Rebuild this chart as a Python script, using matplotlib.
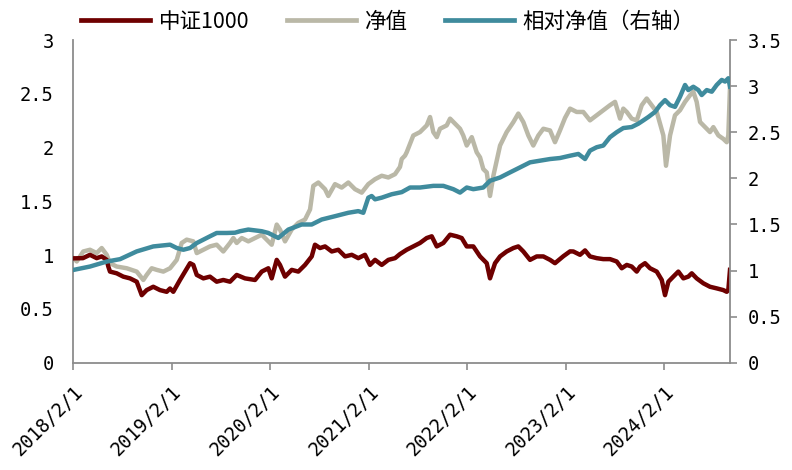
import numpy as np
import pandas as pd
import matplotlib
matplotlib.use("Agg")
import matplotlib.pyplot as plt
from matplotlib.font_manager import FontProperties
from matplotlib.lines import Line2D

# ---------------- data (time in decimal years) ----------------
csi_t = [2018.088, 2018.186, 2018.257, 2018.325, 2018.376, 2018.427, 2018.443, 2018.460,
         2018.528, 2018.595, 2018.663, 2018.731, 2018.782, 2018.832, 2018.899, 2018.967,
         2019.035, 2019.069, 2019.102, 2019.170, 2019.221, 2019.272, 2019.305, 2019.340,
         2019.407, 2019.474, 2019.542, 2019.609, 2019.677, 2019.745,
         2019.829, 2019.931, 2019.999,
         2020.066, 2020.100, 2020.151, 2020.184, 2020.235, 2020.303, 2020.370, 2020.438,
         2020.506, 2020.539, 2020.590, 2020.641, 2020.709, 2020.776, 2020.844, 2020.912, 2020.978,
         2021.046, 2021.097, 2021.148, 2021.216, 2021.283, 2021.351, 2021.401, 2021.469,
         2021.536, 2021.604, 2021.672, 2021.723, 2021.774, 2021.841, 2021.909, 2021.976,
         2022.027, 2022.078, 2022.145, 2022.213, 2022.281, 2022.314, 2022.365, 2022.416,
         2022.483, 2022.551, 2022.601, 2022.652, 2022.720, 2022.788, 2022.855, 2022.923, 2022.973,
         2023.058, 2023.126, 2023.159, 2023.227, 2023.278, 2023.328, 2023.396, 2023.463,
         2023.531, 2023.599, 2023.650, 2023.701, 2023.751, 2023.802, 2023.836, 2023.886, 2023.937,
         2024.005, 2024.056, 2024.089, 2024.123, 2024.173, 2024.224, 2024.275, 2024.325,
         2024.360, 2024.410, 2024.478, 2024.545, 2024.613, 2024.680, 2024.715, 2024.731, 2024.748]
csi1000 = [0.970, 0.972, 1.003, 0.972, 0.988, 0.956, 0.894, 0.847,
           0.831, 0.800, 0.784, 0.753, 0.628, 0.675, 0.706, 0.675,
           0.659, 0.690, 0.659, 0.769, 0.847, 0.925, 0.909, 0.816,
           0.784, 0.800, 0.753, 0.769, 0.753, 0.816,
           0.784, 0.769, 0.847,
           0.878, 0.784, 0.956, 0.909, 0.800, 0.863, 0.847, 0.909,
           0.988, 1.097, 1.066, 1.081, 1.034, 1.050, 0.988, 1.003, 0.972,
           1.003, 0.909, 0.956, 0.909, 0.956, 0.972, 1.010, 1.050,
           1.081, 1.113, 1.159, 1.175, 1.081, 1.113, 1.190, 1.175,
           1.159, 1.081, 1.081, 0.988, 0.925, 0.784, 0.925, 0.988,
           1.034, 1.066, 1.081, 1.034, 0.956, 0.988, 0.988, 0.956, 0.925,
           0.990, 1.035, 1.034, 1.003, 1.044, 0.988, 0.972, 0.963,
           0.963, 0.941, 0.878, 0.909, 0.894, 0.847, 0.894, 0.925, 0.878,
           0.847, 0.769, 0.628, 0.753, 0.800, 0.847, 0.784, 0.800,
           0.831, 0.784, 0.738, 0.706, 0.691, 0.675, 0.659, 0.675, 0.863]

nav_t = [2018.088, 2018.123, 2018.189, 2018.257, 2018.325, 2018.376, 2018.427, 2018.460,
         2018.528, 2018.630, 2018.731, 2018.798, 2018.832, 2018.883, 2018.934,
         2019.001, 2019.069, 2019.137, 2019.187, 2019.238, 2019.305, 2019.340, 2019.407,
         2019.474, 2019.542, 2019.609, 2019.677, 2019.711, 2019.745, 2019.796, 2019.863,
         2019.931, 2019.999,
         2020.066, 2020.100, 2020.151, 2020.184, 2020.235, 2020.303, 2020.370, 2020.438,
         2020.489, 2020.522, 2020.573, 2020.641, 2020.674, 2020.742, 2020.810, 2020.877, 2020.945,
         2021.013, 2021.080, 2021.148, 2021.216, 2021.283, 2021.351, 2021.401, 2021.419,
         2021.452, 2021.469, 2021.536, 2021.604, 2021.672, 2021.706, 2021.739, 2021.774,
         2021.807, 2021.875, 2021.909, 2021.976,
         2022.010, 2022.043, 2022.078, 2022.129, 2022.179, 2022.213, 2022.246, 2022.281,
         2022.314, 2022.348, 2022.416, 2022.483, 2022.551, 2022.601, 2022.652, 2022.703,
         2022.753, 2022.804, 2022.855, 2022.923, 2022.973,
         2023.024, 2023.075, 2023.126, 2023.193, 2023.260, 2023.328, 2023.396, 2023.463,
         2023.531, 2023.582, 2023.633, 2023.666, 2023.701, 2023.751, 2023.802, 2023.853,
         2023.903, 2023.954,
         2024.005, 2024.038, 2024.072, 2024.099, 2024.140, 2024.190, 2024.241, 2024.292,
         2024.343, 2024.376, 2024.410, 2024.444, 2024.495, 2024.545, 2024.579, 2024.630,
         2024.680, 2024.715, 2024.731, 2024.748]
nav = [0.972, 0.941, 1.034, 1.050, 1.019, 1.066, 1.003, 0.925,
       0.894, 0.878, 0.847, 0.769, 0.816, 0.878, 0.863,
       0.847, 0.878, 0.956, 1.113, 1.144, 1.128, 1.019, 1.050,
       1.081, 1.097, 1.034, 1.113, 1.159, 1.113, 1.159, 1.128,
       1.159, 1.190,
       1.128, 1.097, 1.284, 1.238, 1.128, 1.238, 1.300, 1.331,
       1.425, 1.644, 1.675, 1.613, 1.550, 1.660, 1.628, 1.675, 1.613,
       1.581, 1.660, 1.706, 1.738, 1.722, 1.753, 1.820, 1.894,
       1.925, 1.956, 2.112, 2.144, 2.206, 2.284, 2.144, 2.097,
       2.175, 2.206, 2.269, 2.206,
       2.175, 2.112, 2.019, 2.097, 1.956, 1.909, 1.800, 1.769,
       1.550, 1.737, 2.019, 2.144, 2.237, 2.316, 2.237, 2.112,
       2.019, 2.112, 2.175, 2.159, 2.050,
       2.160, 2.276, 2.362, 2.331, 2.331, 2.253, 2.300, 2.347,
       2.394, 2.425, 2.269, 2.362, 2.331, 2.269, 2.253, 2.394,
       2.456, 2.394,
       2.331, 2.222, 2.113, 1.831, 2.113, 2.300, 2.347, 2.425,
       2.487, 2.519, 2.425, 2.238, 2.190, 2.144, 2.190, 2.113,
       2.081, 2.050, 2.113, 2.560]

rel_t = [2018.088, 2018.257, 2018.427, 2018.562, 2018.731, 2018.899,
         2019.069, 2019.137, 2019.204, 2019.272, 2019.340, 2019.474, 2019.542, 2019.644,
         2019.728, 2019.779, 2019.863, 2019.999,
         2020.066, 2020.167, 2020.269, 2020.404, 2020.506, 2020.607, 2020.742, 2020.877, 2020.978,
         2021.029, 2021.080, 2021.114, 2021.148, 2021.216, 2021.317, 2021.419, 2021.503,
         2021.604, 2021.739, 2021.841, 2021.942,
         2022.010, 2022.078, 2022.145, 2022.246, 2022.314, 2022.416, 2022.517, 2022.618,
         2022.720, 2022.821, 2022.923,
         2023.024, 2023.126, 2023.210, 2023.278, 2023.328, 2023.396, 2023.463, 2023.531,
         2023.599, 2023.666, 2023.751, 2023.818, 2023.869, 2023.920, 2023.988,
         2024.038, 2024.089, 2024.140, 2024.190, 2024.241, 2024.292, 2024.325, 2024.376,
         2024.427, 2024.461, 2024.512, 2024.563, 2024.613, 2024.664, 2024.698, 2024.731, 2024.748]
rel_nav = [1.006, 1.043, 1.097, 1.123, 1.207, 1.261,
           1.280, 1.244, 1.225, 1.244, 1.298, 1.371, 1.407, 1.407,
           1.410, 1.426, 1.444, 1.426,
           1.407, 1.353, 1.444, 1.499, 1.499, 1.553, 1.589, 1.626, 1.644,
           1.626, 1.790, 1.808, 1.772, 1.790, 1.827, 1.850, 1.900,
           1.900, 1.918, 1.918, 1.882,
           1.845, 1.900, 1.882, 1.900, 1.973, 2.009, 2.064, 2.118,
           2.173, 2.191, 2.209,
           2.220, 2.245, 2.264, 2.209, 2.300, 2.337, 2.355, 2.446,
           2.500, 2.545, 2.556, 2.592, 2.628, 2.665, 2.720,
           2.793, 2.848, 2.793, 2.775, 2.884, 3.012, 2.957, 2.993,
           2.957, 2.903, 2.957, 2.939, 3.012, 3.067, 3.049, 3.085, 2.994]

tick_dates = ["2018-02-01", "2019-02-01", "2020-02-01", "2021-02-01",
              "2022-02-01", "2023-02-01", "2024-02-01"]
left_ticks = [0, 0.5, 1, 1.5, 2, 2.5, 3]
right_ticks = [0, 0.5, 1, 1.5, 2, 2.5, 3, 3.5]
series_names = ["中证1000", "净值", "相对净值（右轴）"]


def to_dates(t):
    t = np.asarray(t, dtype=float)
    return pd.Timestamp("2018-01-01") + pd.to_timedelta((t - 2018.0) * 365.25, unit="D")


C_RED = "#6E0000"
C_GREY = "#BAB8A7"
C_TEAL = "#3F8B9D"
C_AXIS = "#8C8C8C"

fig = plt.figure(figsize=(7.92, 4.70), dpi=100)
ax = fig.add_axes([73 / 792, 1 - 362.7 / 470, (730 - 73) / 792, (362.7 - 40) / 470])
ax2 = ax.twinx()

lw = 3.2
ax.plot(to_dates(nav_t), nav, color=C_GREY, lw=lw, zorder=2, solid_joinstyle="round")
ax.plot(to_dates(csi_t), csi1000, color=C_RED, lw=lw, zorder=3, solid_joinstyle="round")
ax2.plot(to_dates(rel_t), rel_nav, color=C_TEAL, lw=lw, zorder=3, solid_joinstyle="round")

x0 = pd.Timestamp(tick_dates[0])
x1 = to_dates([csi_t[-1]])[0]
ax.set_xlim(x0, x1)
ax.set_ylim(0, 3)
ax2.set_ylim(0, 3.5)

tick_font = FontProperties(family="DejaVu Sans Mono", size=13.5)

tds = pd.to_datetime(tick_dates)
ax.set_xticks(tds)
ax.set_xticklabels([f"{d.year}/{d.month}/{d.day}" for d in tds], fontproperties=tick_font,
                   rotation=45, ha="right", va="top", rotation_mode="anchor")
ax.set_yticks(left_ticks)
ax.set_yticklabels([f"{v:g}" for v in left_ticks], fontproperties=tick_font)
ax2.set_yticks(right_ticks)
ax2.set_yticklabels([f"{v:g}" for v in right_ticks], fontproperties=tick_font)

ax.tick_params(axis="x", direction="out", length=5, width=1.2, color=C_AXIS, pad=9)
ax.tick_params(axis="y", length=0, pad=14)
ax2.tick_params(axis="y", direction="out", length=5, width=1.2, color=C_AXIS, pad=8)

for a in (ax, ax2):
    a.spines["top"].set_visible(False)
    for s in ("left", "right", "bottom"):
        a.spines[s].set_color(C_AXIS)
        a.spines[s].set_linewidth(1.3)
ax.spines["right"].set_visible(False)
ax2.spines["left"].set_visible(False)
ax2.spines["bottom"].set_visible(False)

handles = [Line2D([], [], color=C_RED, lw=3.4),
           Line2D([], [], color=C_GREY, lw=3.4),
           Line2D([], [], color=C_TEAL, lw=3.4)]
fig.legend(handles, series_names, loc="center", bbox_to_anchor=(388 / 792, 1 - 22 / 470),
           ncol=3, frameon=False, handlelength=3.2, handletextpad=0.4, columnspacing=1.75,
           prop=FontProperties(family=["Noto Sans CJK SC", "DejaVu Sans"], size=15.5))

fig.savefig("out.png", dpi=100)
